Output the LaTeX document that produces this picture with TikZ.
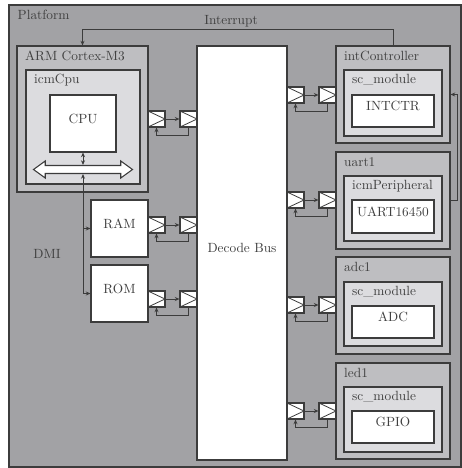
\documentclass[tikz,border=0pt]{standalone}
\usetikzlibrary{arrows.meta,fit,shapes.arrows}
\definecolor{platgray}{RGB}{162,162,165}
\definecolor{modgray}{RGB}{190,190,193}
\definecolor{coregray}{RGB}{220,220,223}
\definecolor{edgegray}{RGB}{60,60,60}

\begin{document}
\begin{tikzpicture}[x=0.75pt, y=-0.75pt,
  every node/.style={text=black!75},
  box/.style={draw=edgegray, line width=0.8pt, inner sep=0pt},
  platbox/.style={box, fill=platgray},
  modbox/.style={box, fill=modgray},
  corebox/.style={box, fill=coregray},
  ipbox/.style={box, fill=white},
  lbl/.style={anchor=west, inner sep=0pt},
  port/.style={draw=edgegray, line width=0.8pt, fill=white, inner sep=0pt,
    minimum width=12.75pt, minimum height=12pt,
    path picture={\draw[edgegray, line width=0.6pt]
      (path picture bounding box.north west) -- (path picture bounding box.east)
      -- (path picture bounding box.south west);}},
  conn/.style={draw=edgegray, line width=0.7pt, -{Stealth[length=3.5pt, width=3pt]}},
  biconn/.style={conn, {Stealth[length=3.5pt, width=3pt]}-{Stealth[length=3.5pt, width=3pt]}},
]
\useasboundingbox (0,0) rectangle (461,468);

% ---------- platform ----------
\node[platbox, fit={(9,5) (461,467)}] (platform) {};
\node[lbl] (platLbl) at ([shift={(9,10.5)}]platform.north west) {Platform};

% ---------- cpu side ----------
\node[modbox, fit={(17,46) (148,192)}] (arm) {};
\node[lbl] (armLbl) at ([shift={(8.5,10.5)}]arm.north west) {ARM Cortex-M3};
\node[corebox, fit={(26,70) (140,184)}] (icmcpu) {};
\node[lbl] (icmcpuLbl) at ([shift={(8.5,10.5)}]icmcpu.north west) {icmCpu};
\node[ipbox, fit={(50,95) (116,152)}] (cpu) {CPU};
\node[draw=edgegray, fill=white, line width=0.8pt, double arrow,
      double arrow head extend=3.4pt, double arrow tip angle=72,
      minimum height=74.25pt, inner xsep=0pt, inner ysep=2.6pt] (cpubus) at (83,169.5) {};

\node[ipbox, fit={(91,200) (148,257)}] (ram) {RAM};
\node[ipbox, fit={(91,265) (148,322)}] (rom) {ROM};
\node (dmiLbl) at (47,254) {DMI};

% ---------- bus ----------
\node[ipbox, fit={(197,46) (287,460)}] (decbus) {Decode Bus};

% ---------- peripherals ----------
\node[modbox, fit={(336,46) (450,143)}] (intc) {};
\node[lbl] (intcLbl) at ([shift={(8.5,10.5)}]intc.north west) {intController};
\node[corebox, fit={(344,70) (442,136)}] (intsc) {};
\node[lbl] (intscLbl) at ([shift={(8.5,10.5)}]intsc.north west) {sc\_module};
\node[ipbox, fit={(352,95) (434,127)}] (intctr) {INTCTR};

\node[modbox, fit={(336,152) (450,249)}] (uart) {};
\node[lbl] (uartLbl) at ([shift={(8.5,10.5)}]uart.north west) {uart1};
\node[corebox, fit={(344,176) (442,241)}] (uartper) {};
\node[lbl] (uartperLbl) at ([shift={(8.5,10.5)}]uartper.north west) {icmPeripheral};
\node[ipbox, fit={(352,200) (434,233)}] (uartip) {UART16450};

\node[modbox, fit={(336,257) (450,354)}] (adc) {};
\node[lbl] (adcLbl) at ([shift={(8.5,10.5)}]adc.north west) {adc1};
\node[corebox, fit={(344,282) (442,346)}] (adcsc) {};
\node[lbl] (adcscLbl) at ([shift={(8.5,10.5)}]adcsc.north west) {sc\_module};
\node[ipbox, fit={(352,306) (434,338)}] (adcip) {ADC};

\node[modbox, fit={(336,363) (450,459)}] (led) {};
\node[lbl] (ledLbl) at ([shift={(8.5,10.5)}]led.north west) {led1};
\node[corebox, fit={(344,387) (442,452)}] (ledsc) {};
\node[lbl] (ledscLbl) at ([shift={(8.5,10.5)}]ledsc.north west) {sc\_module};
\node[ipbox, fit={(352,411) (434,443)}] (ledip) {GPIO};

% ---------- ports ----------
\node[port] (cpuP) at (156.5,119) {};
\node[port] (cpuB) at (188.5,119) {};
\node[port] (ramP) at (156.5,225) {};
\node[port] (ramB) at (188.5,225) {};
\node[port] (romP) at (156.5,299) {};
\node[port] (romB) at (188.5,299) {};
\node[port] (intB) at (295.5,95) {};
\node[port] (intP) at (327.5,95) {};
\node[port] (uartB) at (295.5,200) {};
\node[port] (uartP) at (327.5,200) {};
\node[port] (adcB) at (295.5,305) {};
\node[port] (adcP) at (327.5,305) {};
\node[port] (ledB) at (295.5,411) {};
\node[port] (ledP) at (327.5,411) {};

% ---------- port links ----------
\draw[conn] (cpuP) -- (cpuB);
\draw[conn] (cpuB.south) -- ++(0,8) -| (cpuP.south);
\draw[conn] (ramP) -- (ramB);
\draw[conn] (ramB.south) -- ++(0,8) -| (ramP.south);
\draw[conn] (romP) -- (romB);
\draw[conn] (romB.south) -- ++(0,8) -| (romP.south);
\draw[conn] (intB) -- (intP);
\draw[conn] (intP.south) -- ++(0,8) -| (intB.south);
\draw[conn] (uartB) -- (uartP);
\draw[conn] (uartP.south) -- ++(0,8) -| (uartB.south);
\draw[conn] (adcB) -- (adcP);
\draw[conn] (adcP.south) -- ++(0,8) -| (adcB.south);
\draw[conn] (ledB) -- (ledP);
\draw[conn] (ledP.south) -- ++(0,8) -| (ledB.south);

% ---------- dmi ----------
\draw[biconn] (cpu.south) -- (cpubus);
\draw[biconn] (cpubus) |- (rom);
\draw[conn] (cpubus |- ram) -- (ram);

% ---------- interrupt ----------
\draw[conn] (intc.north) -- ++(0,-16) -| (arm.north);
\node (irqLbl) at (231,21) {Interrupt};
\draw[conn] (uart.east) -- ++(7,0) |- (intc.east);

\end{tikzpicture}
\end{document}
